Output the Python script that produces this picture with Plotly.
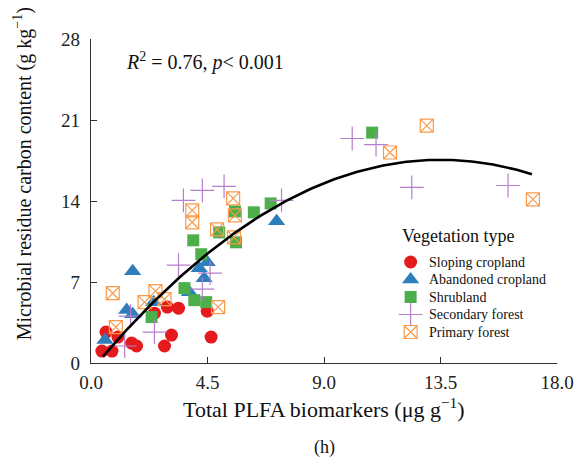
import numpy as np
import plotly.graph_objects as go

# ---- data ----
sloping_x = [0.58, 0.42, 0.81, 1.04, 1.57, 1.76, 2.84, 3.11, 2.95, 3.38, 2.45, 4.49, 4.64]
sloping_y = [2.67, 1.03, 1.03, 2.24, 1.72, 1.47, 1.47, 2.41, 4.83, 4.74, 4.31, 4.48, 2.24]

abandoned_x = [0.54, 1.38, 1.61, 1.61, 2.42, 3.80, 4.18, 4.49, 4.37, 7.17]
abandoned_y = [1.98, 4.57, 4.22, 7.93, 5.26, 6.12, 8.19, 8.71, 7.33, 12.24]

shrub_x = [2.34, 3.61, 3.99, 4.45, 3.95, 4.26, 4.95, 5.56, 5.60, 6.29, 6.94, 10.86]
shrub_y = [3.97, 6.47, 5.43, 5.26, 10.60, 9.40, 11.29, 13.10, 10.43, 13.02, 13.79, 19.91]

secondary_x = [3.57, 4.30, 5.14, 7.36, 3.38, 4.60, 4.30, 2.45, 1.30, 1.53, 10.09, 11.01, 12.39, 16.11]
secondary_y = [14.05, 14.91, 15.26, 14.05, 8.45, 7.76, 6.38, 2.67, 1.47, 4.05, 19.40, 18.88, 15.17, 15.34]

primary_x = [0.84, 0.96, 2.49, 2.07, 2.84, 3.91, 3.91, 5.49, 5.56, 4.87, 5.52, 4.91, 12.97, 11.55, 17.07]
primary_y = [6.03, 3.10, 6.21, 5.26, 5.52, 13.19, 12.16, 14.22, 12.76, 11.55, 10.86, 4.83, 20.52, 18.19, 14.14]

series_names = ["Sloping cropland", "Abandoned cropland", "Shrubland",
                "Secondary forest", "Primary forest"]
legend_title = "Vegetation type"

# quadratic fit y = a + b x + c x^2 (coefficients)
fit_a, fit_b, fit_c = -0.665, 2.70, -0.100
fit_xmin, fit_xmax = 0.46, 17.03

x_ticks = [0, 4.5, 9, 13.5, 18]
x_ticklabels = ["0.0", "4.5", "9.0", "13.5", "18.0"]
y_ticks = [0, 7, 14, 21, 28]

FONT = "Liberation Serif"

styles = [
    dict(symbol="circle", size=13, color="#E41A1C", line=dict(width=0)),
    dict(symbol="triangle-up", size=15, color="#2F7EBC", line=dict(width=0)),
    dict(symbol="square", size=12, color="#4DAF4A", line=dict(width=0)),
    dict(symbol="cross-thin", size=17, color="#B57FCB", line=dict(width=1.2, color="#B57FCB")),
    dict(symbol="square-x-open", size=13, color="#FA9A4A", line=dict(width=1.2)),
]
xs = [sloping_x, abandoned_x, shrub_x, secondary_x, primary_x]
ys = [sloping_y, abandoned_y, shrub_y, secondary_y, primary_y]

fig = go.Figure()
for name, sx, sy, st in zip(series_names, xs, ys, styles):
    fig.add_trace(go.Scatter(x=sx, y=sy, mode="markers", name=name, marker=st,
                             showlegend=False))

xf = np.linspace(fit_xmin, fit_xmax, 200)
yf = fit_a + fit_b * xf + fit_c * xf ** 2
fig.add_trace(go.Scatter(x=xf, y=yf, mode="lines", showlegend=False,
                         line=dict(color="black", width=2.6)))

axis_common = dict(showgrid=False, zeroline=False, showline=True, linecolor="#333333",
                   linewidth=1.2, ticks="inside", ticklen=6, tickcolor="#333333",
                   tickfont=dict(family=FONT, size=19, color="#222222"))

fig.update_xaxes(range=[0, 18], tickvals=x_ticks, ticktext=x_ticklabels,
                 ticklabelstandoff=2, **axis_common)
fig.update_yaxes(range=[0, 28], tickvals=y_ticks, ticklabelstandoff=6, **axis_common)

L, R, T, B = 91, 27, 39, 103
W, H = 586, 466
pw, ph = W - L - R, H - T - B

# pixel-coordinate overlay axes for the hand-built legend
fig.update_layout(
    xaxis2=dict(overlaying="x", range=[L, W - R], visible=False, fixedrange=True),
    yaxis2=dict(overlaying="y", range=[H - B, T], visible=False, fixedrange=True),
)


def px(xp):
    return (xp - L) / pw


def py(yp):
    return (H - B - yp) / ph


annotations = [
    dict(text="<i>R</i><sup>2</sup> = 0.76, <i>p</i>< 0.001", x=px(124), y=py(62),
         xanchor="left", yanchor="middle", font=dict(size=20)),
    dict(text="Total PLFA biomarkers (μg g<sup>−1</sup>)", x=px(325), y=py(408),
         xanchor="center", yanchor="middle", font=dict(size=22)),
    dict(text="(h)", x=px(325), y=py(447), xanchor="center", yanchor="middle",
         font=dict(size=18)),
    dict(text="Microbial residue carbon content (g kg<sup>−1</sup>)", x=px(22), y=py(174),
         xanchor="center", yanchor="middle", textangle=-90, font=dict(size=20)),
    dict(text=legend_title, x=px(401), y=py(236), xanchor="left", yanchor="middle",
         font=dict(size=18)),
]

leg_mx, leg_tx = 412, 428
leg_rows = [262, 279.5, 297, 314.5, 332]
for name, st, ry in zip(series_names, styles, leg_rows):
    fig.add_trace(go.Scatter(x=[leg_mx], y=[ry], xaxis="x2", yaxis="y2", mode="markers",
                             marker=st, showlegend=False, hoverinfo="skip"))
    annotations.append(dict(text=name, x=px(leg_tx), y=py(ry), xanchor="left",
                            yanchor="middle", font=dict(size=14)))

for a in annotations:
    a.update(xref="paper", yref="paper", showarrow=False)
    a["font"].update(family=FONT, color="#111111")

fig.update_layout(
    width=W, height=H,
    margin=dict(l=L, r=R, t=T, b=B),
    paper_bgcolor="white", plot_bgcolor="white",
    font=dict(family=FONT, color="#111111"),
    annotations=annotations,
    showlegend=False,
)

fig.write_html("out.html")
